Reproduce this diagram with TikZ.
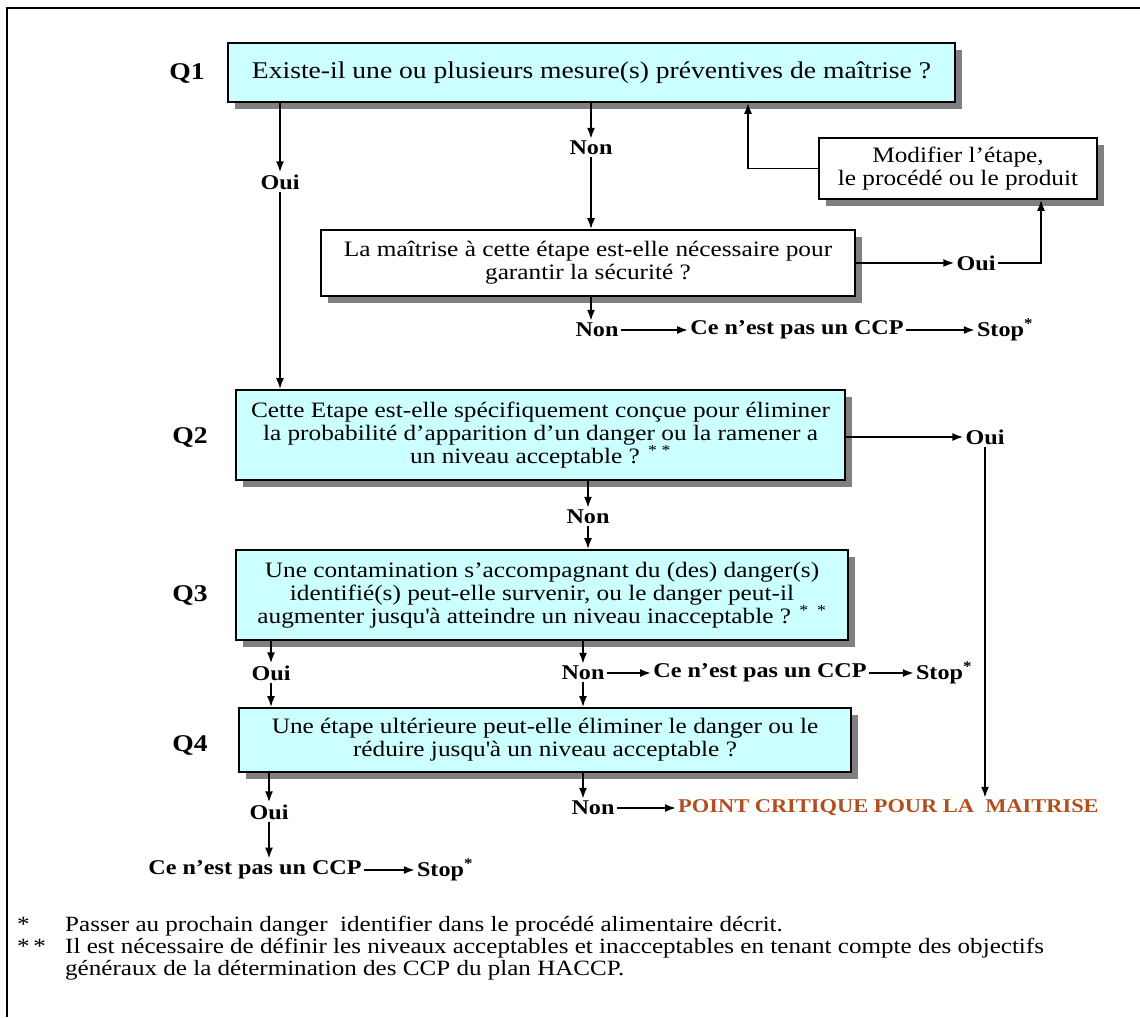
\documentclass[tikz,border=0pt]{standalone}
\usepackage{fontspec}
\setmainfont{Liberation Serif}[FakeStretch=1.15]
\usetikzlibrary{positioning,arrows.meta,shadows}
\definecolor{boxcyan}{RGB}{204,255,255}
\definecolor{pcmbrown}{RGB}{178,78,30}
\tikzset{
  qbox/.style={draw, line width=1.6pt, fill=boxcyan, align=center, inner sep=0pt,
    drop shadow={shadow xshift=7pt, shadow yshift=-7pt, fill=black!50, opacity=1},
    font=\fontsize{22}{23}\selectfont},
  wbox/.style={qbox, fill=white},
  qlab/.style={font=\fontsize{24}{24}\selectfont\bfseries},
  ans/.style={font=\fontsize{21}{21}\selectfont\bfseries, inner sep=2pt},
  note/.style={anchor=west, inner sep=0pt, font=\fontsize{21.8}{22}\selectfont},
  flow/.style={line width=1.8pt, -{Latex[length=11pt,width=8pt]}}
}
\begin{document}
\begin{tikzpicture}[x=1pt,y=-1pt]
  \useasboundingbox (0,0) rectangle (1140,1017);
  \draw[line width=2.5pt] (1140,8) -- (7,8) -- (7,1017);

  % Q1
  \node[qlab] (q1lab) at (187,73) {Q1};
  \node[qbox, minimum width=727pt, minimum height=59pt, font=\fontsize{24}{24}\selectfont] (q1) at (591.5,72.5)
    {Existe-il une ou plusieurs mesure(s) préventives de maîtrise ?};
  \node[ans] (oui1) at (280,182) {Oui};
  \node[ans] (non1) at (591,148) {Non};
  \node[wbox, minimum width=278pt, minimum height=61pt] (modif) at (958,168.5)
    {Modifier l’étape,\\le procédé ou le produit};
  \node[wbox, minimum width=534pt, minimum height=66pt] (maitrise) at (588,263)
    {La maîtrise à cette étape est-elle nécessaire pour\\garantir la sécurité ?};
  \node[ans] (oui2) at (976,263) {Oui};
  \node[ans] (non2) at (597,330) {Non};
  \node[ans] (ccp1) at (797,330) {Ce n’est pas un CCP};
  \node[ans] (stop1) at (1005,330) {Stop\textsuperscript{*}};
  \coordinate (bk) at (748,172);
  \coordinate (upr) at (1041,263);

  \draw[flow] (q1.south -| oui1) -- (oui1.north);
  \draw[flow] (q1.south -| non1) -- (non1.north);
  \draw[flow] (non1.south) -- (non1 |- maitrise.north);
  \draw[flow] (modif.west) -| (bk |- q1.south);
  \draw[flow] (maitrise.east |- oui2) -- (oui2.west);
  \draw[flow] (oui2.east) -| (modif.south -| upr);
  \draw[flow] (maitrise.south -| non1) -- (non1 |- non2.north);
  \draw[flow] (non2.east) -- (ccp1.west);
  \draw[flow] (ccp1.east) -- (stop1.west);

  % Q2
  \node[qlab] (q2lab) at (190,437) {Q2};
  \node[qbox, minimum width=609pt, minimum height=90pt] (q2) at (540.5,435)
    {Cette Etape est-elle spécifiquement conçue pour éliminer\\la probabilité d’apparition d’un danger ou la ramener a\\un niveau acceptable ? \textsuperscript{* *}};
  \node[ans] (oui3) at (985,437) {Oui};
  \node[ans] (non3) at (588,517) {Non};
  \draw[flow] (oui1.south) -- (oui1 |- q2.north);
  \draw[flow] (q2.east |- oui3) -- (oui3.west);
  \draw[flow] (q2.south -| non3) -- (non3.north);

  % Q3
  \node[qlab] (q3lab) at (190,595) {Q3};
  \node[qbox, minimum width=612pt, minimum height=90pt] (q3) at (542,595)
    {Une contamination s’accompagnant du (des) danger(s)\\identifié(s) peut-elle survenir, ou le danger peut-il\\augmenter jusqu\textquotesingle à atteindre un niveau inacceptable ? \textsuperscript{*\ \ *}};
  \node[ans] (oui4) at (271,673) {Oui};
  \node[ans] (non4) at (583,673) {Non};
  \node[ans] (ccp2) at (760,673) {Ce n’est pas un CCP};
  \node[ans] (stop2) at (944,673) {Stop\textsuperscript{*}};
  \draw[flow] (non3.south) -- (non3 |- q3.north);
  \draw[flow] (q3.south -| oui4) -- (oui4.north);
  \draw[flow] (q3.south -| non4) -- (non4.north);
  \draw[flow] (non4.east) -- (ccp2.west);
  \draw[flow] (ccp2.east) -- (stop2.west);

  % Q4
  \node[qlab] (q4lab) at (190,745) {Q4};
  \node[qbox, minimum width=612pt, minimum height=64pt] (q4) at (545,740)
    {Une étape ultérieure peut-elle éliminer le danger ou le\\réduire jusqu\textquotesingle à un niveau acceptable ?};
  \node[ans] (oui5) at (269,812) {Oui};
  \node[ans] (non5) at (593,808) {Non};
  \node[ans, anchor=west, text=pcmbrown, font=\fontsize{19.5}{20}\selectfont\bfseries] (pcm) at (676,808)
    {POINT CRITIQUE POUR LA\ \ MAITRISE};
  \node[ans] (ccp3) at (255,870) {Ce n’est pas un CCP};
  \node[ans] (stop3) at (445,870) {Stop\textsuperscript{*}};
  \draw[flow] (oui4.south) -- (oui4 |- q4.north);
  \draw[flow] (non4.south) -- (non4 |- q4.north);
  \draw[flow] (q4.south -| oui5) -- (oui5.north);
  \draw[flow] (q4.south -| non4) -- (non4 |- non5.north);
  \draw[flow] (non5.east) -- (pcm.west);
  \draw[flow] (oui5.south) -- (oui5 |- ccp3.north);
  \draw[flow] (ccp3.east) -- (stop3.west);
  \draw[flow] (oui3.south) -- (oui3 |- pcm.north);

  % notes
  \node[note] (star1) at (17,924) {*};
  \node[note] (foot1) at (65,926) {Passer au prochain danger\ \ identifier dans le procédé alimentaire décrit.};
  \node[note] (star2) at (17,946) {*\,*};
  \node[note] (foot2) at (65,948) {Il est nécessaire de définir les niveaux acceptables et inacceptables en tenant compte des objectifs};
  \node[note] (foot3) at (65,970) {généraux de la détermination des CCP du plan HACCP.};
\end{tikzpicture}
\end{document}
